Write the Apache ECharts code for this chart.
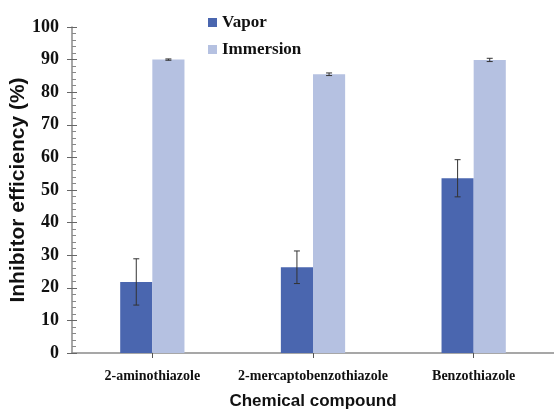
<!DOCTYPE html>
<html><head><meta charset="utf-8">
<script src="https://cdn.jsdelivr.net/npm/echarts@6/dist/echarts.min.js"></script>
<style>html,body{margin:0;padding:0;background:#fff}#c{width:554px;height:410px}</style>
</head><body><div id="c"></div>
<script>
const categories = ['2-aminothiazole', '2-mercaptobenzothiazole', 'Benzothiazole'];
const vaporValues = [21.8, 26.3, 53.6];
const vaporErrors = [7.1, 5.0, 5.7];
const immersionValues = [90.0, 85.5, 89.9];
const immersionErrors = [0.2, 0.4, 0.5];
const seriesNames = ['Vapor', 'Immersion'];

const vaporColor = '#4A66AF';
const immersionColor = '#B5C1E1';

function errorSeries(values, errors, offsetFrac) {
  return {
    type: 'custom',
    z: 10,
    silent: true,
    data: values.map((v, i) => [i, v - errors[i], v + errors[i]]),
    renderItem: function (params, api) {
      const idx = api.value(0);
      const band = api.size([1, 0])[0];
      const lo = api.coord([idx, api.value(1)]);
      const hi = api.coord([idx, api.value(2)]);
      const x = lo[0] + band * offsetFrac;
      const cap = 3;
      const style = { stroke: '#333', lineWidth: 1 };
      return {
        type: 'group',
        children: [
          { type: 'line', shape: { x1: x, y1: hi[1], x2: x, y2: lo[1] }, style: style },
          { type: 'line', shape: { x1: x - cap, y1: hi[1], x2: x + cap, y2: hi[1] }, style: style },
          { type: 'line', shape: { x1: x - cap, y1: lo[1], x2: x + cap, y2: lo[1] }, style: style }
        ]
      };
    }
  };
}

const chart = echarts.init(document.getElementById('c'));
chart.setOption({
  animation: false,
  grid: { left: 72, right: 0, top: 27, bottom: 57, containLabel: false, outerBoundsMode: 'none' },
  legend: {
    data: seriesNames,
    orient: 'vertical',
    left: 203, top: 9,
    itemWidth: 9, itemHeight: 9, itemGap: 10,
    icon: 'rect',
    textStyle: { fontFamily: 'Liberation Serif', fontWeight: 'bold', fontSize: 17, color: '#111' }
  },
  xAxis: {
    type: 'category',
    data: categories,
    axisLine: { lineStyle: { color: '#8a8a8a', width: 1.5 } },
    axisTick: { show: true, alignWithLabel: true, length: 5, lineStyle: { color: '#555' } },
    axisLabel: { interval: 0, fontFamily: 'Liberation Serif', fontWeight: 'bold', fontSize: 14, color: '#111', margin: 16 },
    name: 'Chemical compound',
    nameLocation: 'middle',
    nameGap: 40,
    nameTextStyle: { fontFamily: 'Liberation Sans', fontWeight: 'bold', fontSize: 17, color: '#111' }
  },
  yAxis: [{
    type: 'value',
    min: 0, max: 100, interval: 10,
    splitLine: { show: false },
    axisLine: { show: true, lineStyle: { color: '#8a8a8a', width: 1.5 } },
    axisTick: { show: true, length: 5, lineStyle: { color: '#666' } },
    minorTick: { show: false },
    axisLabel: { fontFamily: 'Liberation Serif', fontWeight: 'bold', fontSize: 18, color: '#111', margin: 13 },
    name: 'Inhibitor efficiency (%)',
    nameLocation: 'middle',
    nameGap: 43,
    nameMoveOverlap: false,
    nameTextStyle: { fontFamily: 'Liberation Sans', fontWeight: 'bold', fontSize: 21, color: '#111' }
  }, {
    type: 'value',
    position: 'left',
    min: 0, max: 100, interval: 10,
    splitLine: { show: false },
    axisLine: { show: false },
    axisLabel: { show: false },
    axisTick: { show: true, inside: true, length: 5, lineStyle: { color: '#666' } },
    minorTick: { show: true, splitNumber: 5, length: 4, lineStyle: { color: '#888' } }
  }],
  series: [
    { name: 'Vapor', type: 'bar', data: vaporValues, barWidth: '20%', barGap: '0%',
      itemStyle: { color: vaporColor } },
    { name: 'Immersion', type: 'bar', data: immersionValues, barWidth: '20%', barGap: '0%',
      itemStyle: { color: immersionColor } },
    errorSeries(vaporValues, vaporErrors, -0.1),
    errorSeries(immersionValues, immersionErrors, 0.1)
  ]
});
</script>
</body></html>
